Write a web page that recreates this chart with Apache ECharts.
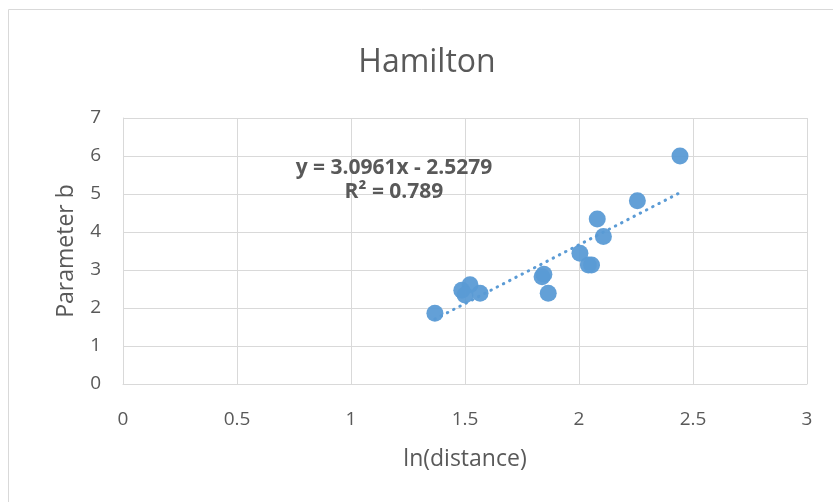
<!DOCTYPE html>
<html><head><meta charset="utf-8">
<script src="https://cdn.jsdelivr.net/npm/echarts@6/dist/echarts.min.js"></script>
<style>html,body{margin:0;padding:0;background:#fff}#c{width:833px;height:502px}</style>
</head><body><div id="c"></div>
<script>
const lnDistance = [1.368, 1.486, 1.522, 1.500, 1.566, 1.838, 1.846, 1.865, 2.004, 2.041, 2.055, 2.080, 2.107, 2.256, 2.443];
const parameterB = [1.86, 2.47, 2.61, 2.34, 2.39, 2.82, 2.89, 2.39, 3.44, 3.13, 3.13, 4.34, 3.88, 4.82, 6.00];
const slope = 3.0961, intercept = -2.5279, r2 = 0.789;
const xTicks = [0, 0.5, 1, 1.5, 2, 2.5, 3];
const yTicks = [0, 1, 2, 3, 4, 5, 6, 7];

const pts = lnDistance.map((x, i) => [x, parameterB[i]]);
const xMin = Math.min(...lnDistance), xMax = Math.max(...lnDistance);
const trend = [[xMin, slope * xMin + intercept], [xMax, slope * xMax + intercept]];
const font = 'Open Sans';
const txt = '#595959';
const chart = echarts.init(document.getElementById('c'));
chart.setOption({
  animation: false,
  grid: {left: 123, right: 26, top: 118, bottom: 118},
  xAxis: {type: 'value', min: 0, max: 3, interval: 0.5,
    name: 'ln(distance)', nameLocation: 'middle', nameGap: 64,
    nameTextStyle: {fontFamily: font, fontSize: 23, color: txt},
    axisLine: {lineStyle: {color: '#d9d9d9'}}, axisTick: {show: false},
    axisLabel: {fontFamily: font, fontSize: 19, color: txt, margin: 26, formatter: v => xTicks.includes(v) ? String(v) : ''},
    splitLine: {lineStyle: {color: '#d9d9d9', width: 1}}},
  yAxis: {type: 'value', min: 0, max: 7, interval: 1,
    name: 'Parameter b', nameLocation: 'middle', nameGap: 45,
    nameTextStyle: {fontFamily: font, fontSize: 23, color: txt},
    axisLine: {show: true, lineStyle: {color: '#d9d9d9'}}, axisTick: {show: false},
    axisLabel: {fontFamily: font, fontSize: 19, color: txt, margin: 22, formatter: v => yTicks.includes(v) ? String(v) : ''},
    splitLine: {lineStyle: {color: '#d9d9d9', width: 1}}},
  series: [
    {type: 'line', data: trend, symbol: 'none', lineStyle: {color: '#5b9bd5', width: 3, type: [0.5, 6.5], cap: 'round'}, z: 1, silent: true},
    {type: 'scatter', data: pts, symbolSize: 17, itemStyle: {color: '#5b9bd5', opacity: 0.95}, z: 2}
  ],
  graphic: [
    {type: 'rect', shape: {x: 8.5, y: 9.5, width: 900, height: 600}, style: {fill: 'none', stroke: '#d9d9d9', lineWidth: 1}, z: -1},
    {type: 'text', x: 427, y: 63, z: 10, style: {text: 'Hamilton', align: 'center', verticalAlign: 'middle', fontFamily: font, fontSize: 32, fill: txt}},
    {type: 'text', x: 394, y: 168, z: 10, style: {text: 'y = ' + slope + 'x - ' + Math.abs(intercept), align: 'center', verticalAlign: 'middle', fontFamily: font, fontSize: 21, fontWeight: 'bold', fill: txt}},
    {type: 'text', x: 394, y: 192, z: 10, style: {text: 'R² = ' + r2, align: 'center', verticalAlign: 'middle', fontFamily: font, fontSize: 21, fontWeight: 'bold', fill: txt}}
  ]
});
</script></body></html>
